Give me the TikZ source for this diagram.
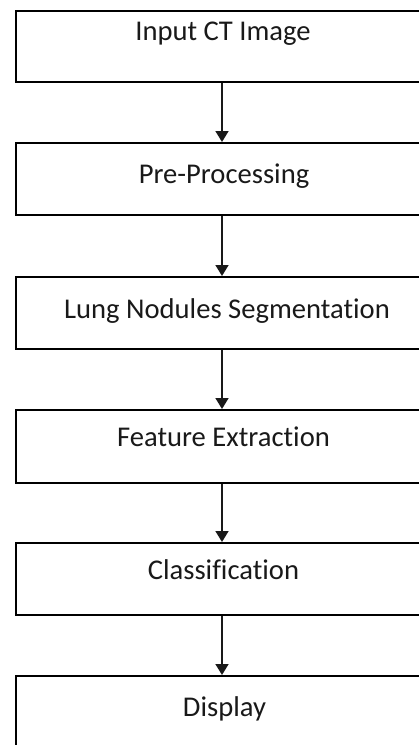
\documentclass[tikz,border=0pt]{standalone}
\usepackage{fontspec}
\setmainfont{Carlito}[Ligatures=NoCommon]
\usetikzlibrary{arrows.meta}
\begin{document}
\begin{tikzpicture}[x=1pt,y=-1pt,
  stagebox/.style={draw=black,line width=2pt,fill=none},
  stagetext/.style={anchor=base,inner sep=0pt,font=\fontsize{28.6}{32}\selectfont,text=black!90},
  flow/.style={line width=1.6pt,draw=black!90,-{Triangle[width=13pt,length=11pt]}}]
\useasboundingbox (0,0) rectangle (419,745);
\clip (0,0) rectangle (419,745);
% process stages: top edge, bottom edge
\foreach \n/\t/\b in {1/9.5/80.5,2/142/214,3/276/348,4/409/482,5/542/614,6/675/747}{
  \node[stagebox,inner sep=0pt,minimum width=415pt,minimum height={(\b-\t)*1pt},anchor=north west]
    (s\n) at (14.5,\t) {};
}
% stage captions on their baselines
\node[stagetext] (t1) at (223,40.7) {Input CT Image};
\node[stagetext] (t2) at (224,183.4) {Pre-Processing};
\node[stagetext] (t3) at (227,318) {Lung Nodules Segmentation};
\node[stagetext] (t4) at (223.5,446.7) {Feature Extraction};
\node[stagetext] (t5) at (223.5,579.3) {Classification};
\node[stagetext] (t6) at (224.5,716.7) {Display};
% connectors between stages
\foreach \a/\b in {1/2,2/3,3/4,4/5,5/6}{
  \draw[flow] (s\a.south -| 222,0) -- (s\b.north -| 222,0);
}
\end{tikzpicture}
\end{document}
